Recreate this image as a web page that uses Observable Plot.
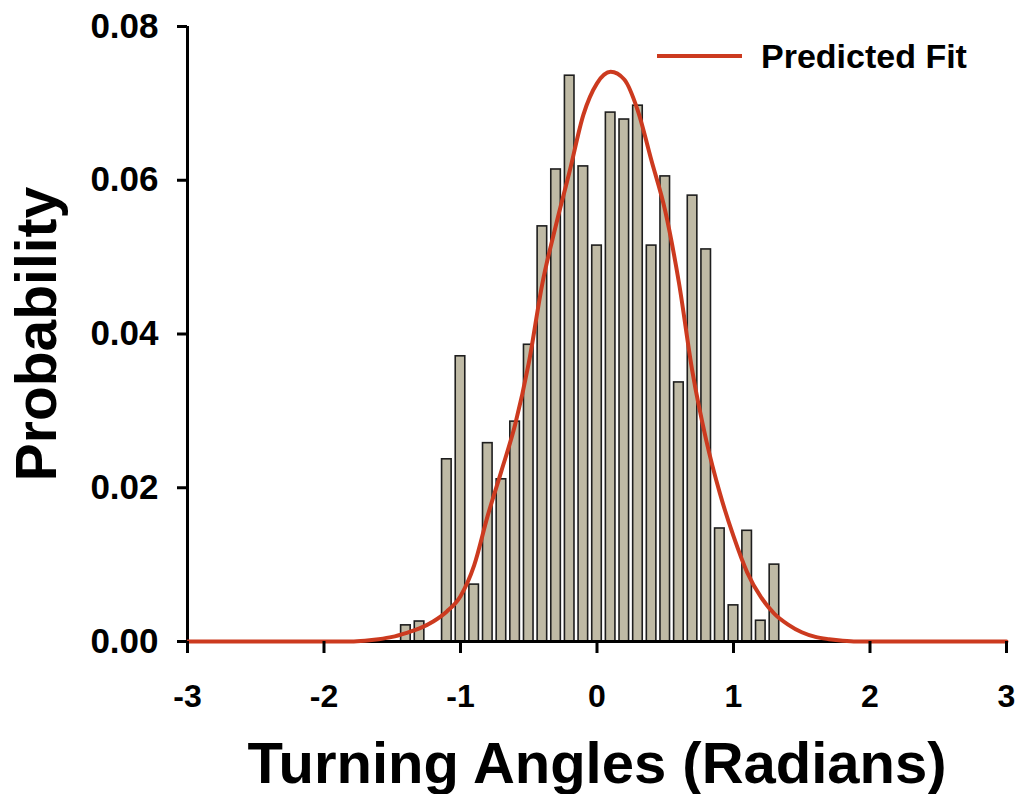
<!DOCTYPE html>
<html>
<head>
<meta charset="utf-8">
<script src="https://cdn.jsdelivr.net/npm/d3@7"></script>
<script src="https://cdn.jsdelivr.net/npm/@observablehq/plot@0.6"></script>
<style>
  html, body { margin: 0; padding: 0; background: #ffffff; }
  #chart { width: 1021px; height: 794px; }
</style>
</head>
<body>
<div id="chart"></div>
<script>
// Histogram bin centres (radians) and probabilities
const binCenters = [-1.4, -1.3, -1.2, -1.1, -1.0, -0.9, -0.8, -0.7, -0.6, -0.5, -0.4, -0.3, -0.2, -0.1,
  0.0, 0.1, 0.2, 0.3, 0.4, 0.5, 0.6, 0.7, 0.8, 0.9, 1.0, 1.1, 1.2, 1.3];
const binProbs = [0.0021, 0.0026, 0, 0.0237, 0.0371, 0.0074, 0.0258, 0.0211, 0.0286, 0.0386, 0.0540, 0.0614, 0.0736, 0.0618,
  0.0515, 0.0688, 0.0679, 0.0697, 0.0515, 0.0605, 0.0337, 0.0580, 0.0510, 0.0147, 0.0047, 0.0144, 0.0027, 0.0100];

// Predicted fit curve
const fitX = [-3.0, -1.8, -1.7, -1.6, -1.5, -1.4, -1.3, -1.2, -1.1, -1.0, -0.9, -0.8, -0.7, -0.6, -0.5, -0.4, -0.3, -0.2, -0.1,
  0.0, 0.1, 0.2, 0.3, 0.4, 0.5, 0.6, 0.7, 0.8, 0.9, 1.0, 1.1, 1.2, 1.3, 1.4, 1.5, 1.6, 1.7, 1.8, 1.9, 3.0];
const fitY = [0, 0, 0.0001, 0.0003, 0.0006, 0.0011, 0.0017, 0.0026, 0.0039, 0.0059, 0.0099, 0.0164, 0.0222, 0.0282, 0.0362, 0.0466, 0.0542, 0.0612, 0.0685,
  0.0726, 0.0741, 0.0731, 0.0690, 0.0625, 0.0560, 0.0467, 0.0350, 0.0262, 0.0193, 0.0137, 0.0090, 0.0058, 0.0036, 0.0022, 0.0012, 0.0006, 0.0003, 0.0001, 0, 0];

// Axis ticks
const xTicks = [-3, -2, -1, 0, 1, 2, 3];
const yTicks = [0, 0.02, 0.04, 0.06, 0.08];

const bars = binCenters.map((c, i) => ({x: c, p: binProbs[i]})).filter(d => d.p > 0);
const fit = fitX.map((x, i) => ({x, y: fitY[i]}));

const halfW = 0.035;
const FONT = "'Liberation Sans', Arial, Helvetica, sans-serif";
const RED = "#cc3a1f";

const plot = Plot.plot({
  width: 1021,
  height: 794,
  marginLeft: 187,
  marginRight: 15,
  marginTop: 26,
  marginBottom: 153,
  style: {fontFamily: FONT, fontWeight: "bold", fontSize: "33px", background: "#ffffff", color: "#000"},
  x: {domain: [-3, 3]},
  y: {domain: [0, 0.08]},
  marks: [
    Plot.rect(bars, {
      x1: d => d.x - halfW, x2: d => d.x + halfW, y1: 0, y2: "p",
      fill: "#bfbaa5", stroke: "#1e1e1e", strokeWidth: 1.6
    }),
    Plot.ruleY([0], {stroke: "#000", strokeWidth: 3}),
    Plot.ruleX([-3], {stroke: "#000", strokeWidth: 3}),
    Plot.line(fit, {x: "x", y: "y", stroke: RED, strokeWidth: 4, curve: "monotone-x"}),
    Plot.axisX({
      ticks: xTicks, tickSize: 12, tickPadding: 31, tickFormat: d => String(d),
      strokeWidth: 3, fontSize: 32, fontWeight: "bold", fontFamily: FONT, label: null
    }),
    Plot.axisY({
      ticks: yTicks, tickSize: 10, tickPadding: 19, tickFormat: d3.format(".2f"),
      strokeWidth: 3, fontSize: 35, fontWeight: "bold", fontFamily: FONT, label: null
    }),
    Plot.text(["Turning Angles (Radians)"], {
      frameAnchor: "bottom", dy: 141, textAnchor: "middle", fontSize: 58, fontWeight: "bold", fontFamily: FONT, fill: "#000"
    }),
    Plot.text(["Probability"], {
      frameAnchor: "left", dx: -150, rotate: -90, textAnchor: "middle", fontSize: 57, fontWeight: "bold", fontFamily: FONT, fill: "#000"
    })
  ]
});

// Legend (top-right)
const svg = d3.select(plot);
const lg = svg.append("g").attr("aria-label", "legend");
lg.append("line").attr("x1", 657).attr("x2", 742).attr("y1", 56).attr("y2", 56)
  .attr("stroke", RED).attr("stroke-width", 4);
lg.append("text").attr("x", 761).attr("y", 56).attr("dy", "0.35em")
  .attr("text-anchor", "start")
  .attr("font-size", 34).attr("font-weight", "bold").attr("font-family", FONT)
  .attr("fill", "#000").text("Predicted Fit");

document.getElementById("chart").appendChild(plot);
</script>
</body>
</html>
